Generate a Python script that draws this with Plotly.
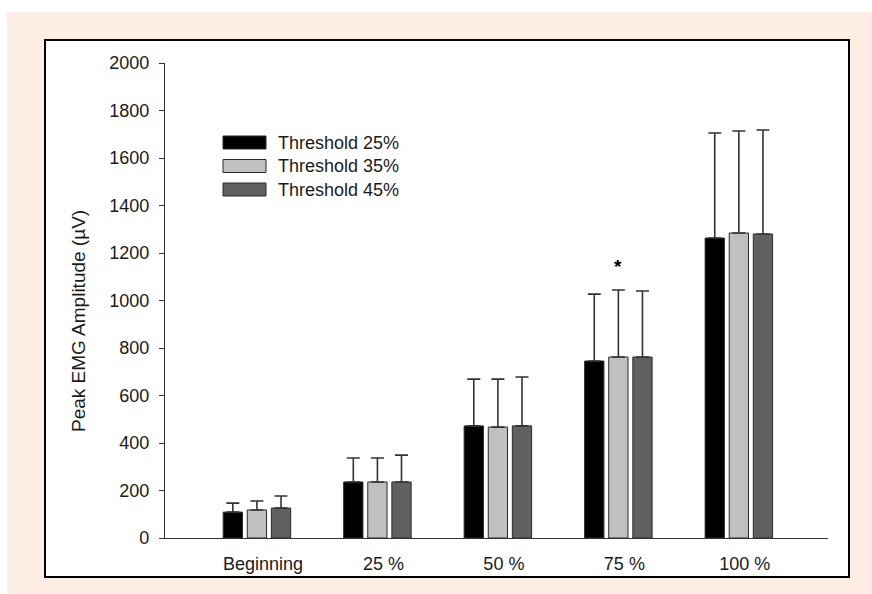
import plotly.graph_objects as go

# Peak EMG amplitude per recording stage and detection threshold
stages = ["Beginning", "25 %", "50 %", "75 %", "100 %"]
series_names = ["Threshold 25%", "Threshold 35%", "Threshold 45%"]
means_t25 = [109, 236, 472, 745, 1263]
means_t35 = [118, 236, 467, 762, 1284]
means_t45 = [126, 236, 472, 762, 1280]
sd_t25 = [38, 101, 197, 282, 442]
sd_t35 = [38, 101, 202, 282, 430]
sd_t45 = [51, 113, 206, 278, 438]
fill_colors = ["#000000", "#c0c0c0", "#606060"]
y_ticks = [0, 200, 400, 600, 800, 1000, 1200, 1400, 1600, 1800, 2000]
sig_stage = 3      # stage marked as significant
sig_level = 1145   # height of the significance marker

W, H = 872, 594
L, R, T, B = 165, 828, 63, 538   # plot area in pixels


def px(x):
    return (x - L) / (R - L)


def py(y):
    return (B - y) / (B - T)


FONT = "Liberation Sans, Arial, sans-serif"
TXT = "#1a1a1a"
x_pos = list(range(len(stages)))

fig = go.Figure()
for name, m, s, c in zip(series_names, [means_t25, means_t35, means_t45],
                         [sd_t25, sd_t35, sd_t45], fill_colors):
    fig.add_trace(go.Bar(
        x=x_pos, y=m, name=name,
        marker=dict(color=c, line=dict(color="#2a2a2a", width=1)),
        error_y=dict(type="data", array=s, arrayminus=[0] * len(s), symmetric=False,
                     color="#333333", thickness=1.6, width=6.5),
        showlegend=False,
    ))

shapes = [
    # peach page background
    dict(type="rect", xref="paper", yref="paper", x0=px(7), x1=px(W + 5), y0=py(12), y1=py(H + 5),
         fillcolor="#fdede3", line=dict(width=0), layer="below"),
    # white framed panel
    dict(type="rect", xref="paper", yref="paper", x0=px(45), x1=px(849), y0=py(40), y1=py(577),
         fillcolor="#ffffff", line=dict(color="#000000", width=2), layer="below"),
]

annotations = []
# legend drawn as wide swatches with labels
leg_rows = [142.5, 166, 189.5]
for name, c, yc in zip(series_names, fill_colors, leg_rows):
    shapes.append(dict(type="rect", xref="paper", yref="paper",
                       x0=px(223), x1=px(266), y0=py(yc + 6.5), y1=py(yc - 6.5),
                       fillcolor=c, line=dict(color="#2a2a2a", width=1)))
    annotations.append(dict(xref="paper", yref="paper", x=px(276), y=py(yc), text=name,
                            showarrow=False, xanchor="left", yanchor="middle",
                            font=dict(family=FONT, size=18, color=TXT)))

# y-axis title
annotations.append(dict(xref="paper", yref="paper", x=px(78), y=py(321),
                        text="Peak EMG Amplitude (\u00b5V)", textangle=-90, showarrow=False,
                        xanchor="center", yanchor="middle",
                        font=dict(family=FONT, size=19, color=TXT)))

# significance marker
annotations.append(dict(xref="x", yref="y", x=sig_stage, y=sig_level, text="<b>*</b>",
                        showarrow=False, xanchor="center", yanchor="middle",
                        font=dict(family=FONT, size=19, color="#000000")))

fig.update_layout(
    width=W, height=H,
    margin=dict(l=L, r=W - R, t=T, b=H - B, pad=0),
    paper_bgcolor="#ffffff", plot_bgcolor="#ffffff",
    barmode="group", bargap=0.4, bargroupgap=0.2,
    shapes=shapes, annotations=annotations,
    font=dict(family=FONT, size=18, color=TXT),
    xaxis=dict(range=[-0.763, 4.74], tickvals=x_pos, ticktext=stages,
               showline=True, linecolor="#333333", linewidth=1.2,
               showgrid=False, zeroline=False, ticks="",
               ticklabelstandoff=9, ticklabelshift=6,
               tickfont=dict(family=FONT, size=18, color=TXT)),
    yaxis=dict(range=[0, 2000], tickvals=y_ticks,
               showline=True, linecolor="#333333", linewidth=1.2,
               showgrid=False, zeroline=False,
               ticks="outside", ticklen=5, tickwidth=1.2, tickcolor="#333333",
               ticklabelstandoff=6,
               tickfont=dict(family=FONT, size=18, color=TXT)),
)

fig.write_html("out.html")
